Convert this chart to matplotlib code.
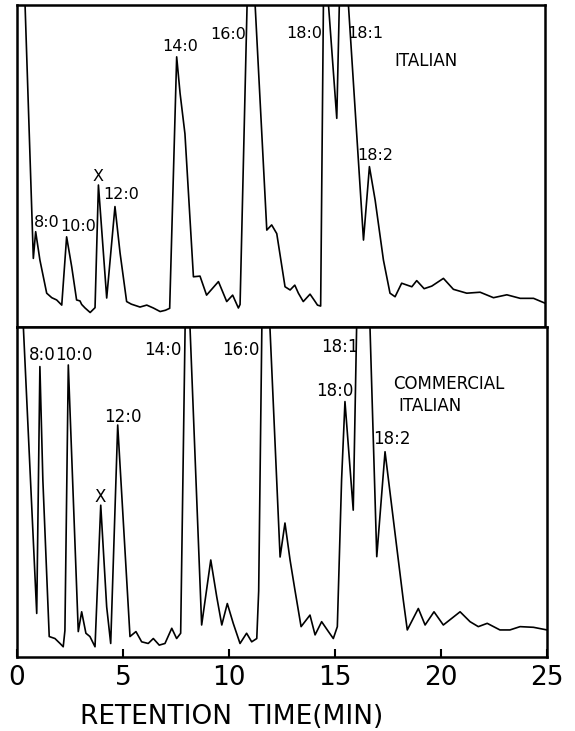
import matplotlib
matplotlib.use("Agg")
import matplotlib.pyplot as plt

# retention time (min) and detector response (% of panel height, >100 = off scale)
italian_t = [0.02, 0.38, 0.77, 0.88, 1.08, 1.40, 1.64, 1.87, 2.11, 2.34, 2.58, 2.81, 2.97,
             3.05, 3.21, 3.45, 3.68, 3.84, 4.23, 4.62, 4.86, 5.17, 5.39, 5.80, 6.12, 6.43,
             6.75, 7.00, 7.20, 7.53, 7.69, 7.92, 8.32, 8.63, 8.94, 9.50, 9.89, 10.17, 10.44,
             10.52, 10.85, 11.05, 11.23, 11.78, 12.01, 12.25, 12.64, 12.88, 13.10, 13.27,
             13.50, 13.82, 14.06, 14.17, 14.32, 14.45, 14.57, 14.69, 15.08, 15.20, 15.40,
             15.63, 16.34, 16.62, 16.89, 17.28, 17.59, 17.83, 18.14, 18.40, 18.62, 18.85,
             19.20, 19.56, 20.11, 20.58, 21.21, 21.84, 22.47, 23.10, 23.73, 24.36, 24.90]
italian_s = [140, 100, 21.3, 29.6, 20.8, 10.5, 9.1, 8.4, 6.8, 28.0, 18.7, 8.4, 8.1,
             7.0, 5.9, 4.5, 6.0, 44.1, 9.0, 37.4, 23.0, 7.9, 7.1, 6.2, 6.8, 5.9,
             4.8, 5.2, 5.8, 83.9, 72.6, 60.0, 15.6, 15.8, 9.9, 14.1, 7.9, 9.9, 5.9,
             7.0, 100, 140, 100, 30.1, 31.7, 29.0, 12.5, 11.5, 13.0, 10.5,
             7.9, 10.2, 7.9, 6.8, 6.5, 100, 140, 100, 64.8, 100, 140,
             100, 27.0, 49.8, 39.4, 20.8, 10.5, 9.4, 13.6, 13.0, 12.5, 14.4,
             11.9, 12.7, 15.1, 11.7, 10.5, 10.8, 9.1, 10.0, 8.9, 8.9, 7.4]

commercial_t = [0.02, 0.30, 0.93, 1.08, 1.22, 1.52, 1.79, 2.03, 2.18, 2.26, 2.42, 2.89, 3.05,
                3.25, 3.44, 3.68, 3.95, 4.23, 4.42, 4.75, 5.33, 5.61, 5.88, 6.19, 6.43, 6.71,
                6.98, 7.30, 7.53, 7.72, 7.93, 8.05, 8.16, 8.71, 9.14, 9.42, 9.66, 9.92, 10.20,
                10.52, 10.83, 11.07, 11.31, 11.40, 11.55, 11.75, 11.93, 12.41, 12.64, 12.88,
                13.11, 13.40, 13.82, 14.06, 14.37, 14.69, 14.92, 15.11, 15.31, 15.47, 15.86,
                16.02, 16.30, 16.65, 16.97, 17.36, 17.91, 18.22, 18.41, 18.93, 19.25, 19.67,
                20.11, 20.90, 21.37, 21.76, 22.18, 22.78, 23.25, 23.73, 24.36, 25.00]
commercial_s = [140, 100, 13.2, 88.0, 53.6, 6.2, 5.6, 4.1, 3.1, 8.0, 88.5, 7.7, 13.7,
                7.2, 6.2, 3.1, 46.0, 15.2, 4.1, 70.3, 6.2, 7.7, 4.6, 4.1, 5.6, 3.6,
                4.1, 8.7, 5.6, 7.2, 100, 140, 100, 9.7, 29.4, 18.3, 9.7, 16.2, 10.2,
                4.1, 7.2, 4.6, 5.6, 20.0, 100, 140, 100, 30.3, 40.6, 29.4,
                20.3, 9.2, 12.7, 6.7, 10.7, 7.7, 5.6, 9.2, 53.6, 77.4, 44.5,
                100, 140, 100, 30.4, 62.2, 33.4, 17.3, 8.2, 14.7, 9.7, 13.7,
                9.7, 13.7, 10.7, 9.2, 10.2, 8.2, 8.2, 9.2, 9.0, 8.2]

# peak labels: (text, time, response)
italian_labels = [("8:0", 1.42, 32.6), ("10:0", 2.88, 31.1), ("X", 3.82, 46.6),
                  ("12:0", 4.91, 41.0), ("14:0", 7.69, 87.0), ("16:0", 9.95, 90.7),
                  ("18:0", 13.54, 91.3), ("18:1", 16.42, 91.3), ("18:2", 16.89, 53.4)]
commercial_labels = [("8:0", 1.20, 91.5), ("10:0", 2.69, 91.5), ("X", 3.92, 48.5),
                     ("12:0", 4.98, 72.7), ("14:0", 6.89, 93.0), ("16:0", 10.57, 93.0),
                     ("18:1", 15.24, 93.9), ("18:0", 14.98, 80.6), ("18:2", 17.69, 66.1)]

W, H = 575, 731
fig = plt.figure(figsize=(W / 100, H / 100), dpi=100)


def box(x0, x1, ytop, ybot):
    return [x0 / W, 1 - ybot / H, (x1 - x0) / W, (ybot - ytop) / H]


ax_top = fig.add_axes(box(17, 545, 5, 327))
ax_bot = fig.add_axes(box(17, 547, 327, 657))

for ax in (ax_top, ax_bot):
    ax.set_ylim(0, 100)
    ax.set_yticks([])
    for sp in ax.spines.values():
        sp.set_linewidth(1.8)

ax_top.plot(italian_t, italian_s, color="black", lw=1.2)
ax_top.set_xlim(0, 24.9)
ax_top.set_xticks([])
for txt, t, s in italian_labels:
    ax_top.text(t, s, txt, fontsize=11.5, ha="center", va="center")
ax_top.text(19.29, 82.6, "ITALIAN", fontsize=12, ha="center", va="center")

ax_bot.plot(commercial_t, commercial_s, color="black", lw=1.2)
ax_bot.set_xlim(0, 25)
ax_bot.set_xticks([0, 5, 10, 15, 20, 25])
ax_bot.tick_params(axis="x", direction="in", length=6, width=1.5, pad=6, labelsize=19)
for txt, t, s in commercial_labels:
    ax_bot.text(t, s, txt, fontsize=12, ha="center", va="center")
ax_bot.text(17.74, 82.7, "COMMERCIAL", fontsize=12, ha="left", va="center")
ax_bot.text(17.97, 76.1, "ITALIAN", fontsize=12, ha="left", va="center")

fig.text(80 / W, 1 - 717 / H, "RETENTION  TIME(MIN)", fontsize=19, ha="left", va="center")

fig.savefig("out.png", dpi=100)
